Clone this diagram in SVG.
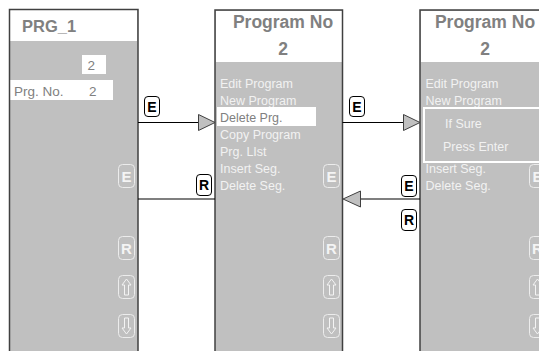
<svg xmlns="http://www.w3.org/2000/svg" width="539" height="351" viewBox="0 0 539 351">
<style>
.panel{fill:#c0c0c0;stroke:#404040;stroke-width:1.5}
.hdr{fill:#ffffff}
.title{font-family:"Liberation Sans",Arial,sans-serif;font-weight:bold;fill:#808080}
.menu{font-family:"Liberation Sans",Arial,sans-serif;font-size:12.5px;fill:#f2f2f2}
.gtxt{font-family:"Liberation Sans",Arial,sans-serif;font-size:12.5px;fill:#808080}
.g1{font-family:"Liberation Sans",Arial,sans-serif;font-size:13.5px;fill:#808080}
.btn{fill:none;stroke:#ececec;stroke-width:1}
.btxt{font-family:"Liberation Sans",Arial,sans-serif;font-weight:bold;font-size:15px;fill:#f4f4f4;text-anchor:middle}
.icon{fill:none;stroke:#f4f4f4;stroke-width:1}
.lbl{fill:#ffffff;stroke:#000000;stroke-width:1}
.ltxt{font-family:"Liberation Sans",Arial,sans-serif;font-weight:bold;font-size:14px;fill:#000000;text-anchor:middle}
.line{stroke:#000000;stroke-width:1.2;fill:none}
.head{fill:#c0c0c0;stroke:#404040;stroke-width:1}
</style>
<defs>
<g id="btnE"><rect class="btn" x="0" y="0" width="16" height="23" rx="4"/><text class="btxt" x="8" y="17">E</text></g>
<g id="btnR"><rect class="btn" x="0" y="0" width="16" height="23" rx="4"/><text class="btxt" x="8" y="17">R</text></g>
<g id="btnU"><rect class="btn" x="0" y="0" width="16" height="23" rx="4"/><path class="icon" d="M8,3.5 L12.5,9.5 L10,9.5 L10,19.5 L6,19.5 L6,9.5 L3.5,9.5 Z"/></g>
<g id="btnD"><rect class="btn" x="0" y="0" width="16" height="23" rx="4"/><path class="icon" d="M8,19.5 L12.5,13.5 L10,13.5 L10,3.5 L6,3.5 L6,13.5 L3.5,13.5 Z"/></g>
</defs>

<g id="panel1">
<rect class="panel" x="9.5" y="9.5" width="128.5" height="345"/>
<rect class="hdr" x="10.5" y="10.5" width="126.5" height="30.5"/>
<text class="title" x="22" y="31.5" font-size="16.5">PRG_1</text>
<rect class="hdr" x="82" y="55" width="24" height="19"/>
<text class="g1" x="87.5" y="69.5">2</text>
<rect class="hdr" x="10.5" y="80" width="102.5" height="20"/>
<text class="g1" x="14" y="95.5">Prg. No.</text>
<text class="g1" x="89" y="95.5">2</text>
<use href="#btnE" x="118.5" y="164.5"/>
<use href="#btnR" x="118.5" y="236.5"/>
<use href="#btnU" x="118.5" y="275.5"/>
<use href="#btnD" x="118.5" y="314.5"/>
</g>

<g id="panel2">
<rect class="panel" x="215" y="10" width="127.5" height="345"/>
<rect class="hdr" x="216" y="11" width="125.5" height="51"/>
<text class="title" x="283" y="28" font-size="17.5" text-anchor="middle">Program No</text>
<text class="title" x="283" y="55" font-size="17.5" text-anchor="middle">2</text>
<text class="menu" x="220" y="87.5">Edit Program</text>
<text class="menu" x="220" y="104.5">New Program</text>
<rect class="hdr" x="217" y="107" width="99" height="19"/>
<text class="gtxt" x="220" y="121.5">Delete Prg.</text>
<text class="menu" x="220" y="138.5">Copy Program</text>
<text class="menu" x="220" y="155.5">Prg. LIst</text>
<text class="menu" x="220" y="172.5">Insert Seg.</text>
<text class="menu" x="220" y="189.5">Delete Seg.</text>
<use href="#btnE" x="323.5" y="164.5"/>
<use href="#btnR" x="323.5" y="236.5"/>
<use href="#btnU" x="323.5" y="275.5"/>
<use href="#btnD" x="323.5" y="314.5"/>
</g>

<g id="panel3">
<rect class="panel" x="420" y="10" width="127.5" height="345"/>
<rect class="hdr" x="421" y="11" width="125.5" height="51"/>
<text class="title" x="485" y="28" font-size="17.5" text-anchor="middle">Program No</text>
<text class="title" x="485" y="55" font-size="17.5" text-anchor="middle">2</text>
<text class="menu" x="425.5" y="87.5">Edit Program</text>
<text class="menu" x="425.5" y="104.5">New Program</text>
<text class="menu" x="425.5" y="172.5">Insert Seg.</text>
<text class="menu" x="425.5" y="189.5">Delete Seg.</text>
<rect x="424" y="108" width="130" height="54" fill="#c0c0c0" stroke="#ffffff" stroke-width="2"/>
<text class="menu" x="445" y="128">If Sure</text>
<text class="menu" x="443" y="151">Press Enter</text>
<use href="#btnE" x="529.5" y="164.5"/>
<use href="#btnR" x="529.5" y="236.5"/>
<use href="#btnU" x="529.5" y="275.5"/>
<use href="#btnD" x="529.5" y="314.5"/>
</g>

<g id="connectors">
<line class="line" x1="138" y1="122.5" x2="199" y2="122.5"/>
<polygon class="head" points="198.5,114.5 215,122.5 198.5,130.5"/>
<rect class="lbl" x="144.5" y="96.5" width="15" height="20" rx="3.5"/>
<text class="ltxt" x="152" y="111.5">E</text>

<line class="line" x1="138" y1="199" x2="215" y2="199"/>
<rect class="lbl" x="196.5" y="174.5" width="15" height="21" rx="3.5"/>
<text class="ltxt" x="204" y="190">R</text>

<line class="line" x1="342.5" y1="122.5" x2="404" y2="122.5"/>
<polygon class="head" points="403.5,114.5 420,122.5 403.5,130.5"/>
<rect class="lbl" x="349.5" y="96.5" width="15" height="20" rx="3.5"/>
<text class="ltxt" x="357" y="111.5">E</text>

<line class="line" x1="360" y1="199" x2="420" y2="199"/>
<polygon class="head" points="360.5,191 343,199 360.5,207"/>
<rect class="lbl" x="401.5" y="175.5" width="15" height="21" rx="3.5"/>
<text class="ltxt" x="409" y="191">E</text>
<rect class="lbl" x="401.5" y="209.5" width="15" height="21" rx="3.5"/>
<text class="ltxt" x="409" y="225">R</text>
</g>
</svg>
